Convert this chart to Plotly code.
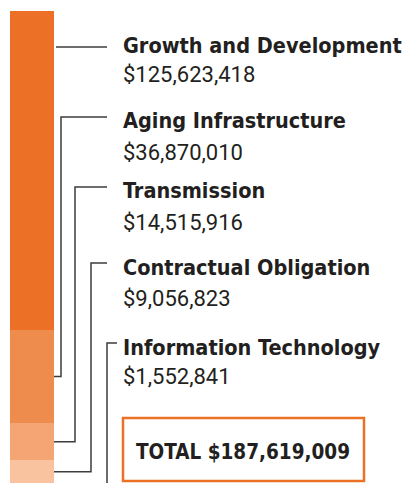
import plotly.graph_objects as go

categories = ["Growth and Development", "Aging Infrastructure", "Transmission",
              "Contractual Obligation", "Information Technology"]
values = [125623418, 36870010, 14515916, 9056823, 1552841]
value_labels = ["$125,623,418", "$36,870,010", "$14,515,916", "$9,056,823", "$1,552,841"]
colors = ["#EC7026", "#EE8C4E", "#F4A573", "#F9C3A0", "#FCDCC6"]
total_label = "TOTAL $187,619,009"

W, H = 405, 483
TOP = 11            # px where bar starts
Y_MAX = 186.0e6     # visible part of the axis (bar is cut at the bottom)

def px_to_data(p):
    return (p - TOP) / (H - TOP) * Y_MAX

def px_x(p):
    return p / W

fig = go.Figure()
for cat, v, c in zip(categories, values, colors):
    fig.add_trace(go.Bar(x=["Budget"], y=[v], name=cat, marker=dict(color=c, line=dict(width=0)),
                         hoverinfo="skip", showlegend=False))

fig.update_layout(
    barmode="stack", bargap=0,
    width=W, height=H,
    margin=dict(l=0, r=0, t=0, b=0),
    paper_bgcolor="white", plot_bgcolor="white",
    xaxis=dict(domain=[10 / W, 54 / W], visible=False, fixedrange=True),
    yaxis=dict(domain=[0, (H - TOP) / H], range=[Y_MAX, 0], visible=False, fixedrange=True),
)

# label positions (px from top): title centre, value centre, leader-line level
title_px = [45, 120, 190, 267, 347]
value_px = [74, 152, 222, 298, 376]
line_px = [47, 117, 187, 263, 343]
elbow_x = [None, 61, 75, 91, 107]

cum = 0
mids = []
for v in values:
    mids.append(cum + v / 2)
    cum += v

line_style = dict(color="#3d3d3d", width=1.5)
for i in range(len(categories)):
    ly = px_to_data(line_px[i])
    if i == 0:
        path = f"M {px_x(56)},{ly} L {px_x(107)},{ly}"
    elif i < 4:
        ex = px_x(elbow_x[i])
        path = (f"M {px_x(54)},{mids[i]} L {ex},{mids[i]} L {ex},{ly} L {px_x(107)},{ly}")
    else:
        ex = px_x(elbow_x[i])
        path = f"M {ex},{mids[i]} L {ex},{ly} L {px_x(117)},{ly}"
    fig.add_shape(type="path", path=path, xref="paper", yref="y", line=line_style)

    fig.add_annotation(x=px_x(121), y=px_to_data(title_px[i]), xref="paper", yref="y",
                       text=f"<b>{categories[i]}</b>", showarrow=False,
                       xanchor="left", yanchor="middle",
                       font=dict(family="DejaVu Sans Condensed, DejaVu Sans", size=21.5, color="#231F20"))
    fig.add_annotation(x=px_x(121), y=px_to_data(value_px[i]), xref="paper", yref="y",
                       text=value_labels[i], showarrow=False,
                       xanchor="left", yanchor="middle",
                       font=dict(family="Roboto", size=22, color="#231F20", weight=400))

# total box
fig.add_shape(type="rect", xref="paper", yref="paper",
              x0=px_x(123), x1=px_x(364), y0=1 - 481 / H, y1=1 - 418 / H,
              line=dict(color="#EC7026", width=2.5), fillcolor="rgba(0,0,0,0)")
fig.add_annotation(x=px_x(243.5), y=1 - 452 / H, xref="paper", yref="paper",
                   text=f"<b>{total_label}</b>", showarrow=False,
                   xanchor="center", yanchor="middle",
                   font=dict(family="DejaVu Sans Condensed, DejaVu Sans", size=20.5, color="#231F20"))

fig.write_html("out.html", config={"displayModeBar": False},
               post_script="document.body.style.margin='0';")
